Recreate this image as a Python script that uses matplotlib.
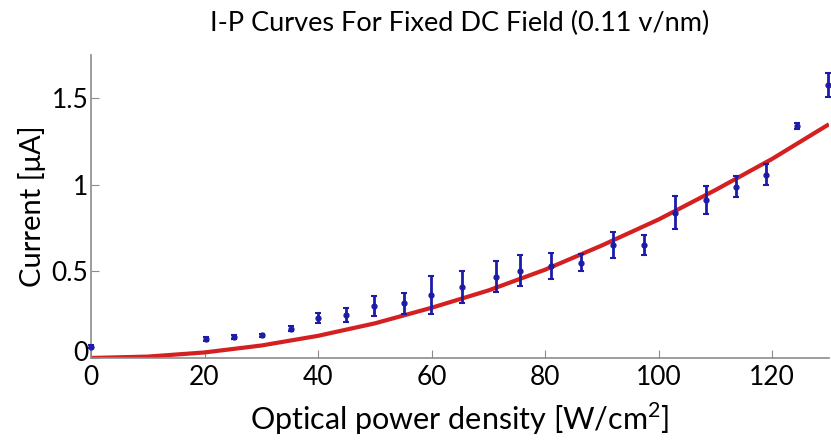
import matplotlib
matplotlib.use("Agg")
import matplotlib.pyplot as plt
import matplotlib.transforms as mtransforms
from matplotlib.ticker import FixedLocator

plt.rcParams['font.family'] = ['Lato', 'DejaVu Sans']
plt.rcParams['mathtext.fontset'] = 'custom'
plt.rcParams['mathtext.rm'] = 'Lato'

# measured points (power density, current, error half-width)
power = [0, 20.2, 25.2, 30.2, 35.2, 40.0, 44.9, 49.8, 55.1, 59.9, 65.3, 71.3,
         75.5, 81.0, 86.4, 91.9, 97.4, 102.9, 108.4, 113.7, 119.0, 124.4, 129.8]
current = [0.065, 0.11, 0.12, 0.13, 0.168, 0.23, 0.25, 0.30, 0.316, 0.364, 0.41, 0.47,
           0.505, 0.53, 0.55, 0.653, 0.653, 0.84, 0.913, 0.99, 1.058, 1.34, 1.578]
err = [0.01, 0.01, 0.01, 0.01, 0.015, 0.03, 0.04, 0.06, 0.06, 0.11, 0.09, 0.09,
       0.09, 0.075, 0.05, 0.077, 0.06, 0.095, 0.08, 0.06, 0.06, 0.015, 0.07]

# fitted curve
fit_x = [0, 10, 20, 30, 40, 50, 60, 70, 80, 90, 100, 110, 120, 130]
fit_y = [0, 0.008, 0.032, 0.072, 0.128, 0.20, 0.29, 0.39, 0.51, 0.65, 0.80, 0.97, 1.15, 1.35]

xticks = [0, 20, 40, 60, 80, 100, 120]
yticks = [0, 0.5, 1, 1.5]
ytick_labels = ["0", "0.5", "1", "1.5"]

fig = plt.figure(figsize=(8.31, 4.40), dpi=100)
ax = fig.add_axes([0.1095, 0.1864, 0.888, 0.6886])

ax.plot(fit_x, fit_y, color='#d42020', lw=3, solid_capstyle='butt', zorder=2)
ax.errorbar(power, current, yerr=err, fmt='o', ms=3.5, color='#1c1ca8',
            ecolor='#1c1ca8', elinewidth=2, capsize=2, capthick=1.5, zorder=3,
            clip_on=False)

ax.set_xlim(0, 130)
ax.set_ylim(0, 1.75)
ax.xaxis.set_major_locator(FixedLocator(xticks))
ax.set_yticks(yticks)
ax.set_yticklabels(ytick_labels)

for s in ['top', 'right']:
    ax.spines[s].set_visible(False)
for s in ['left', 'bottom']:
    ax.spines[s].set_color('#8c8c8c')
    ax.spines[s].set_linewidth(1.2)
ax.tick_params(direction='in', length=6, color='#8c8c8c', labelsize=19, pad=2)
ax.tick_params(axis='x', pad=5)

# nudge the y "0" up a little so it does not sit on the x "0"
lab0 = ax.get_yticklabels()[0]
lab0.set_transform(lab0.get_transform() +
                   mtransforms.ScaledTranslation(0, 5 / 72, fig.dpi_scale_trans))

ax.set_xlabel("Optical power density [W/cm$^2$]", fontsize=22, labelpad=8)
ax.set_ylabel("Current [\u03bcA]", fontsize=21, labelpad=4)
ax.set_title("I-P Curves For Fixed DC Field (0.11 v/nm)", fontsize=19.5, pad=17)

fig.savefig("out.png", dpi=100)
